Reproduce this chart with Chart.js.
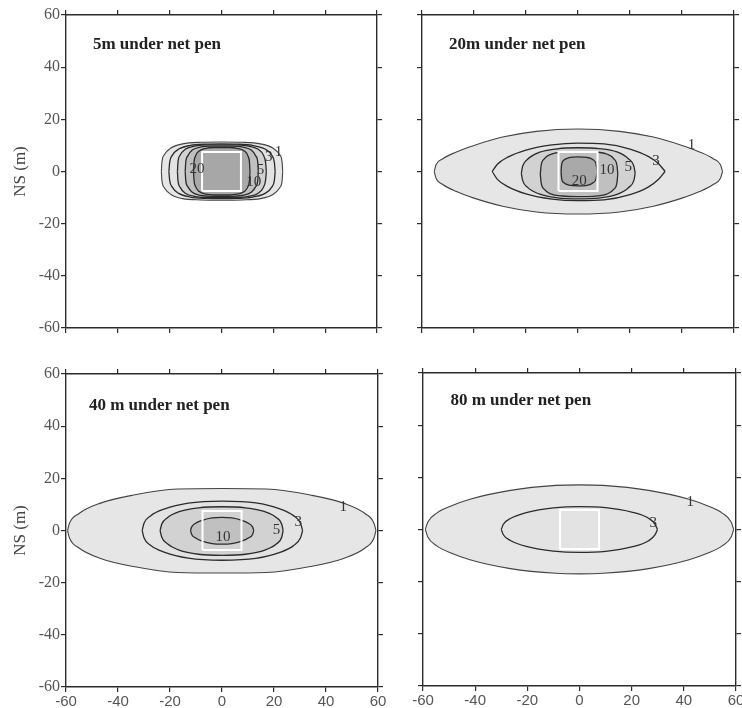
<!DOCTYPE html>
<html>
<head>
<meta charset="utf-8">
<script src="https://cdn.jsdelivr.net/npm/chart.js@4.4.1/dist/chart.umd.min.js"></script>
<style>
  html, body { margin: 0; padding: 0; background: #fff; }
  #wrap { position: relative; width: 742px; height: 708px; overflow: hidden; }
  #wrap canvas { position: absolute; }
</style>
</head>
<body>
<div id="wrap">
  <canvas id="p5"  width="390" height="345" style="left:0;top:0"></canvas>
  <canvas id="p20" width="352" height="345" style="left:390px;top:0"></canvas>
  <canvas id="p40" width="390" height="363" style="left:0;top:345px"></canvas>
  <canvas id="p80" width="352" height="363" style="left:390px;top:345px"></canvas>
</div>
<script>
/* Deposition footprint under a net pen, four depths.
   Contours are stored as upper / lower outlines in metres (EW, NS). */

const axisTicks = [-60, -40, -20, 0, 20, 40, 60];

// net pen corners (m)
const penX = [-7.5, -7.5, 7.5, 7.5, -7.5];
const penY = [-7.5, 7.5, 7.5, -7.5, -7.5];

const titles = ['5m under net pen', '20m under net pen', '40 m under net pen', '80 m under net pen'];

// ---- 5 m ----
const levels5 = [1, 3, 5, 10, 20];
const top5 = [
  [[-23.2,0],[-23,3.5],[-22,6.5],[-19.5,9],[-15,10.6],[-8,11.2],[0,11.3],[8,11.2],[15,10.6],[19.8,9],[22.4,6.5],[23.4,3.5],[23.6,0]],
  [[-20.3,0],[-20,3.5],[-19,6.2],[-16.5,8.6],[-12,10],[-6,10.5],[0,10.6],[6,10.5],[12,10],[16.8,8.6],[19.4,6.2],[20.4,3.5],[20.7,0]],
  [[-17,0],[-16.8,3.5],[-16,6.2],[-14,8.5],[-10,9.8],[-5,10.2],[0,10.2],[5,10.2],[10,9.8],[14.2,8.5],[16.2,6.2],[17,3.5],[17.3,0]],
  [[-14,0],[-13.8,3.5],[-13,6],[-11.3,8.2],[-8,9.4],[-4,9.7],[0,9.7],[4,9.7],[8,9.4],[11.5,8.2],[13.2,6],[14,3.5],[14.2,0]],
  [[-10.8,0],[-10.6,3.5],[-10,6],[-8.6,7.9],[-6,8.9],[-3,9.2],[0,9.2],[3,9.2],[6,8.9],[8.8,7.9],[10.2,6],[10.8,3.5],[11,0]]
];
const bot5 = [
  [[-23.2,0],[-23,-3.4],[-22,-6.3],[-19.5,-8.8],[-15,-10.4],[-8,-10.9],[0,-11],[8,-10.9],[15,-10.4],[19.8,-8.8],[22.4,-6.3],[23.4,-3.4],[23.6,0]],
  [[-20.3,0],[-20,-3.4],[-19,-6],[-16.5,-8.4],[-12,-9.8],[-6,-10.3],[0,-10.4],[6,-10.3],[12,-9.8],[16.8,-8.4],[19.4,-6],[20.4,-3.4],[20.7,0]],
  [[-17,0],[-16.8,-3.4],[-16,-6],[-14,-8.3],[-10,-9.6],[-5,-10],[0,-10],[5,-10],[10,-9.6],[14.2,-8.3],[16.2,-6],[17,-3.4],[17.3,0]],
  [[-14,0],[-13.8,-3.4],[-13,-5.8],[-11.3,-8],[-8,-9.2],[-4,-9.5],[0,-9.5],[4,-9.5],[8,-9.2],[11.5,-8],[13.2,-5.8],[14,-3.4],[14.2,0]],
  [[-10.8,0],[-10.6,-3.4],[-10,-5.8],[-8.6,-7.7],[-6,-8.7],[-3,-9],[0,-9],[3,-9],[6,-8.7],[8.8,-7.7],[10.2,-5.8],[10.8,-3.4],[11,0]]
];
const lab5 = [[22,7.5],[18.2,5.6],[15,0.5],[12.4,-4],[-9.5,0.8]];

// ---- 20 m ----
const levels20 = [1, 3, 5, 10, 20];
const top20 = [
  [[-55.3,0],[-54.6,2.6],[-52,4.9],[-47,7.4],[-40,10],[-29,13.2],[-16,15.4],[0,16.3],[16,15.4],[29,13.2],[40,10],[47,7.4],[52,4.9],[54.8,2.6],[55.6,0]],
  [[-33,0],[-31,2.8],[-27,5.5],[-20,8.2],[-10,10.2],[0,10.9],[10,10.6],[20,8.6],[27,5.8],[31,3],[33.5,0]],
  [[-21.8,-0.7],[-21.3,2],[-19.5,4.6],[-15,7.3],[-8,8.7],[0,9.1],[8,8.8],[15,7.5],[19.5,4.8],[21.5,2],[22,-0.7]],
  [[-14.5,-1],[-14.2,2.2],[-13,4.8],[-10.5,6.6],[-6,7.4],[0,7.6],[6,7.5],[11,6.7],[13.8,4.8],[15,2.2],[15.3,-1]],
  [[-6.5,0],[-6.3,2.6],[-5.4,4.4],[-3.5,5.3],[0,5.6],[3.5,5.4],[5.8,4.5],[7,2.6],[7.3,0]]
];
const bot20 = [
  [[-55.3,0],[-54.6,-2.6],[-52,-5],[-47,-7.6],[-40,-10.2],[-29,-13.3],[-16,-15.5],[0,-16.3],[16,-15.5],[29,-13.3],[40,-10.2],[47,-7.6],[52,-5],[54.8,-2.6],[55.6,0]],
  [[-33,0],[-31,-3],[-27,-5.8],[-20,-8.6],[-10,-10.6],[0,-11.2],[10,-10.9],[20,-8.9],[27,-6],[31,-3],[33.5,0]],
  [[-21.8,-0.7],[-21.3,-3.4],[-19.5,-6],[-15,-8.6],[-8,-10.1],[0,-10.5],[8,-10.2],[15,-8.8],[19.5,-6.1],[21.5,-3.4],[22,-0.7]],
  [[-14.5,-1],[-14.2,-4.2],[-13,-6.8],[-10.5,-8.6],[-6,-9.4],[0,-9.6],[6,-9.5],[11,-8.7],[13.8,-6.8],[15,-4.2],[15.3,-1]],
  [[-6.5,0],[-6.3,-2.6],[-5.4,-4.3],[-3.5,-5.2],[0,-5.5],[3.5,-5.3],[5.8,-4.3],[7,-2.5],[7.3,0]]
];
const lab20 = [[43.7,10],[30,4],[19.3,1.7],[11.2,0.6],[0.5,-3.8]];

// ---- 40 m ----
const levels40 = [1, 3, 5, 10];
const top40 = [
  [[-59.4,0],[-58.7,2.7],[-55,6.5],[-47,10.4],[-34,13.6],[-17,15.9],[0,16.1],[17,15.9],[34,13.6],[47,10.4],[55,6.5],[58.5,2.7],[59.2,0]],
  [[-30.7,0],[-30,2.8],[-27.5,5.6],[-22,8.3],[-13,10.5],[0,11.3],[13,10.6],[22,8.4],[27.5,5.7],[30.2,2.8],[31,0]],
  [[-23.8,0],[-23.2,2.4],[-21,4.9],[-16.5,7.2],[-9,8.7],[0,9.1],[9,8.7],[16.5,7.2],[21,4.9],[23,2.4],[23.5,0]],
  [[-12.1,0],[-11.7,1.3],[-10.3,2.7],[-7.3,4],[-3.8,4.8],[0,5],[3.8,4.8],[7.3,4],[10.3,2.7],[11.8,1.3],[12.2,0]]
];
const bot40 = [
  [[-59.4,0],[-58.7,-2.8],[-55,-6.7],[-47,-10.6],[-34,-13.8],[-17,-16.1],[0,-16.3],[17,-16.1],[34,-13.8],[47,-10.6],[55,-6.7],[58.5,-2.8],[59.2,0]],
  [[-30.7,0],[-30,-2.8],[-27.5,-5.7],[-22,-8.4],[-13,-10.6],[0,-11.4],[13,-10.7],[22,-8.5],[27.5,-5.8],[30.2,-2.8],[31,0]],
  [[-23.8,0],[-23.2,-2.5],[-21,-5.1],[-16.5,-7.5],[-9,-9.1],[0,-9.5],[9,-9.1],[16.5,-7.5],[21,-5.1],[23,-2.5],[23.5,0]],
  [[-12.1,0],[-11.7,-1.4],[-10.3,-2.8],[-7.3,-4.2],[-3.8,-5],[0,-5.2],[3.8,-5],[7.3,-4.2],[10.3,-2.8],[11.8,-1.4],[12.2,0]]
];
const lab40 = [[46.6,9.1],[29.3,3.3],[21,0.1],[0.4,-2.7]];

// ---- 80 m ----
const levels80 = [1, 3];
const top80 = [
  [[-59.1,0],[-58.2,2.8],[-54.7,6.3],[-49,9.1],[-42,11.6],[-26.5,15],[-9,16.9],[0,17.1],[9,16.9],[26.5,15],[42,11.6],[49,9.1],[54.7,6.3],[58.2,2.8],[59.1,0]],
  [[-30,0],[-29.2,2],[-26.5,4.2],[-20,6.6],[-10,8.3],[0,8.8],[10,8.4],[20,6.7],[26.5,4.3],[29,2],[29.9,0]]
];
const bot80 = [
  [[-59.1,0],[-58.2,-2.8],[-54.7,-6.3],[-49,-9.1],[-42,-11.6],[-26.5,-15],[-9,-16.8],[0,-17],[9,-16.8],[26.5,-15],[42,-11.6],[49,-9.1],[54.7,-6.3],[58.2,-2.8],[59.1,0]],
  [[-30,0],[-29.2,-2],[-26.5,-4.2],[-20,-6.6],[-10,-8.3],[0,-8.8],[10,-8.4],[20,-6.7],[26.5,-4.3],[29,-2],[29.9,0]]
];
const lab80 = [[42.5,10.7],[28.3,2.4]];

/* ---------- styling ---------- */
const SERIF = '"Liberation Serif", "Times New Roman", serif';
const SANS  = '"Liberation Sans", Arial, sans-serif';
const shade = { 1: '#e6e6e6', 3: '#e3e3e3', 5: '#d2d2d2', 10: '#c0c0c0', 20: '#a9a9a9' };
const INK = '#2b2b2b';

Chart.defaults.font.family = SERIF;
Chart.defaults.animation = false;

const pts = arr => arr.map(p => ({ x: p[0], y: p[1] }));

function contourSets(levels, tops, bots){
  const out = [];
  // inner contour first: the filler and the lines paint the list back to front
  for(let i = levels.length - 1; i >= 0; i--){
    const lv = levels[i];
    const line = {
      borderColor: lv === 1 ? '#444' : INK, borderWidth: lv === 1 ? 1.1 : 1.3,
      cubicInterpolationMode: 'monotone', pointRadius: 0
    };
    out.push({ ...line, data: pts(tops[i]), fill: { target: '+1' }, backgroundColor: shade[lv] });
    out.push({ ...line, data: pts(bots[i]), fill: false });
  }
  return out;
}

function penSets(filled){
  const outline = {
    data: penX.map((x, i) => ({ x, y: penY[i] })),
    borderColor: '#ffffff', borderWidth: 2, tension: 0, pointRadius: 0, fill: false
  };
  if(!filled) return [outline];
  // solid pen floor (shallow case only)
  return [
    outline,
    { data: [{x: penX[1], y: penY[1]}, {x: penX[2], y: penY[2]}], borderWidth: 0, pointRadius: 0, tension: 0, fill: { target: '+1' }, backgroundColor: '#a7a7a7' },
    { data: [{x: penX[0], y: penY[0]}, {x: penX[3], y: penY[3]}], borderWidth: 0, pointRadius: 0, tension: 0, fill: false }
  ];
}

function textLayer(items){
  return {
    id: 'textLayer',
    afterDatasetsDraw(chart){
      const { ctx, scales: { x, y } } = chart;
      ctx.save();
      for(const t of items){
        ctx.font = t.font;
        ctx.fillStyle = t.color;
        ctx.textAlign = t.align || 'center';
        ctx.textBaseline = t.baseline || 'middle';
        ctx.fillText(t.text, x.getPixelForValue(t.x), y.getPixelForValue(t.y));
      }
      ctx.restore();
    }
  };
}

function scalesFor(box){
  const grid = { display: true, drawOnChartArea: false, drawTicks: true, tickLength: 5, color: INK, lineWidth: 1.2 };
  const border = { display: true, color: INK, width: 1.4 };
  const setTicks = s => { s.ticks = axisTicks.map(v => ({ value: v })); };
  const base = { type: 'linear', min: -60, max: 60, afterBuildTicks: setTicks, grid, border };
  return {
    x: { ...base, axis: 'x', position: 'bottom',
         ticks: { display: box.xLabels, font: { family: SANS, size: 15 }, color: '#555', padding: 1, maxRotation: 0, autoSkip: false },
         afterFit: s => { s.height = box.bottom; s.paddingLeft = 0; s.paddingRight = 0; } },
    x2: { ...base, axis: 'x', position: 'top', ticks: { display: false },
         afterFit: s => { s.height = box.top; s.paddingLeft = 0; s.paddingRight = 0; } },
    y: { ...base, axis: 'y', position: 'left',
         ticks: { display: box.yLabels, font: { family: SERIF, size: 16 }, color: '#555', padding: 1, autoSkip: false },
         title: { display: box.yLabels, text: 'NS (m)', color: '#444', font: { family: SERIF, size: 17 }, padding: { top: 10, bottom: 0 } },
         afterFit: s => { s.width = box.left; s.paddingTop = 0; s.paddingBottom = 0; } },
    y2: { ...base, axis: 'y', position: 'right', ticks: { display: false },
         afterFit: s => { s.width = box.right; s.paddingTop = 0; s.paddingBottom = 0; } }
  };
}

function panel(id, box, levels, tops, bots, labels, title, titlePos, penFilled){
  const items = [{ text: title, x: titlePos[0], y: titlePos[1], font: 'bold 17px ' + SERIF, color: '#222', align: 'left', baseline: 'alphabetic' }];
  levels.forEach((lv, i) => items.push({ text: String(lv), x: labels[i][0], y: labels[i][1], font: '15px ' + SERIF, color: '#333' }));

  new Chart(document.getElementById(id), {
    type: 'line',
    data: { datasets: [...penSets(penFilled), ...contourSets(levels, tops, bots)] },
    options: {
      responsive: false,
      layout: { padding: 0 },
      plugins: { legend: { display: false }, tooltip: { enabled: false }, filler: { drawTime: 'beforeDatasetsDraw' } },
      scales: scalesFor(box)
    },
    plugins: [textLayer(items)]
  });
}

panel('p5',  { left: 66, right: 13, top: 15, bottom: 17, xLabels: false, yLabels: true },
      levels5, top5, bot5, lab5, titles[0], [-49.6, 46.8], true);
panel('p20', { left: 32, right: 8, top: 15, bottom: 17, xLabels: false, yLabels: false },
      levels20, top20, bot20, lab20, titles[1], [-49.6, 46.8], false);
panel('p40', { left: 66, right: 12, top: 29, bottom: 21, xLabels: true, yLabels: true },
      levels40, top40, bot40, lab40, titles[2], [-51.2, 46.2], false);
panel('p80', { left: 33, right: 6, top: 28, bottom: 22, xLabels: true, yLabels: false },
      levels80, top80, bot80, lab80, titles[3], [-49.5, 47.8], false);
</script>
</body>
</html>
